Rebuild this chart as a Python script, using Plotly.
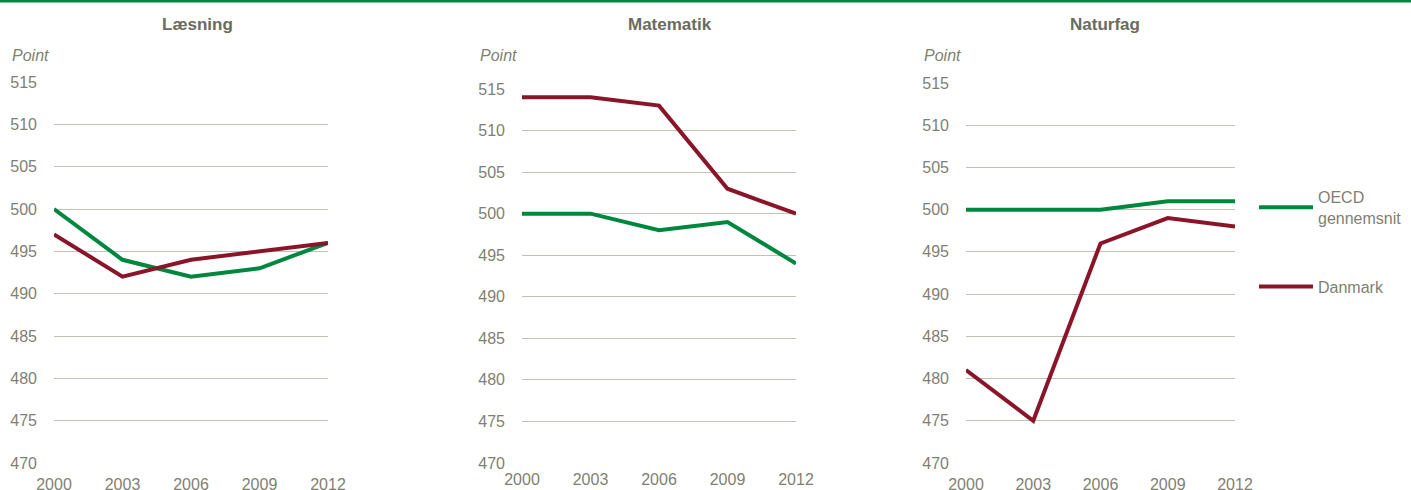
import plotly.graph_objects as go

# PISA scores, Danmark vs OECD average
YEARS = [2000, 2003, 2006, 2009, 2012]
SUBJECTS = ['Læsning', 'Matematik', 'Naturfag']

OECD_LAESNING = [500, 494, 492, 493, 496]
DK_LAESNING = [497, 492, 494, 495, 496]

OECD_MATEMATIK = [500, 500, 498, 499, 494]
DK_MATEMATIK = [514, 514, 513, 503, 500]

OECD_NATURFAG = [500, 500, 500, 501, 501]
DK_NATURFAG = [481, 475, 496, 499, 498]

Y_TICKS = [470, 475, 480, 485, 490, 495, 500, 505, 510, 515]

GREEN = '#00873E'
RED = '#8A1529'
GRID = '#C3C1B4'
TEXT = '#7F7F72'
TITLE = '#6B6B5E'
FONT = 'Liberation Sans Narrow, Arial Narrow, Liberation Sans, sans-serif'
SANS = 'Liberation Sans, Arial, sans-serif'

W, H = 1411, 490

# panel geometry in pixels: (left, right, top, x-label standoff, title centre)
PANELS = [(54, 328, 82, 10, 197), (522, 796, 89, 5, 670), (966, 1235, 83, 10, 1105)]
BOTTOM = 463

series = [
    (OECD_LAESNING, DK_LAESNING),
    (OECD_MATEMATIK, DK_MATEMATIK),
    (OECD_NATURFAG, DK_NATURFAG),
]

fig = go.Figure()

for i, ((oecd, dk), (left, right, top, standoff, tx)) in enumerate(zip(series, PANELS)):
    n = '' if i == 0 else str(i + 1)
    last = i == 2
    fig.add_trace(go.Scatter(
        x=YEARS, y=oecd, mode='lines', name='OECD<br>gennemsnit',
        line=dict(color=GREEN, width=4), xaxis='x' + n, yaxis='y' + n,
        showlegend=last, legendgroup='oecd'))
    fig.add_trace(go.Scatter(
        x=YEARS, y=dk, mode='lines', name='Danmark',
        line=dict(color=RED, width=4), xaxis='x' + n, yaxis='y' + n,
        showlegend=last, legendgroup='dk'))

    fig.update_layout(**{
        'xaxis' + n: dict(
            domain=[left / W, right / W], range=[2000, 2012],
            tickvals=YEARS, showgrid=False, zeroline=False, showline=False,
            anchor='y' + n, ticklabelstandoff=standoff, automargin=False,
            tickfont=dict(family=FONT, size=16, color=TEXT),
            fixedrange=True),
        'yaxis' + n: dict(
            domain=[1 - BOTTOM / H, 1 - top / H], range=[470, 515],
            tickvals=Y_TICKS, showgrid=True, gridcolor=GRID, gridwidth=1,
            zeroline=False, showline=False, anchor='x' + n,
            ticklabelstandoff=16, automargin=False,
            tickfont=dict(family=FONT, size=16, color=TEXT),
            fixedrange=True),
    })

    fig.add_annotation(
        text='<b>' + SUBJECTS[i] + '</b>', x=tx / W, y=1 - 24 / H,
        xref='paper', yref='paper', showarrow=False,
        xanchor='center', yanchor='middle',
        font=dict(family=SANS, size=17, color=TITLE))
    fig.add_annotation(
        text='<i>Point</i>', x=(left - 24) / W, y=1 - 55 / H,
        xref='paper', yref='paper', showarrow=False,
        xanchor='center', yanchor='middle',
        font=dict(family=SANS, size=16, color=TEXT))

# green rule along the top
fig.add_shape(type='line', xref='paper', yref='paper',
              x0=0, x1=1, y0=1 - 1 / H, y1=1 - 1 / H,
              line=dict(color=GREEN, width=3))

fig.update_layout(
    width=W, height=H,
    margin=dict(l=0, r=0, t=0, b=0, autoexpand=False),
    plot_bgcolor='white', paper_bgcolor='white',
    legend=dict(
        x=1254 / W, y=1 - 180 / H, xanchor='left', yanchor='top',
        font=dict(family=FONT, size=16, color=TEXT),
        tracegroupgap=45, bgcolor='rgba(0,0,0,0)', itemwidth=54),
)

# drop the default page margin so the figure sits at the window's corner
fig.write_html('out.html', config={'displayModeBar': False},
               post_script="document.body.style.margin='0';")
